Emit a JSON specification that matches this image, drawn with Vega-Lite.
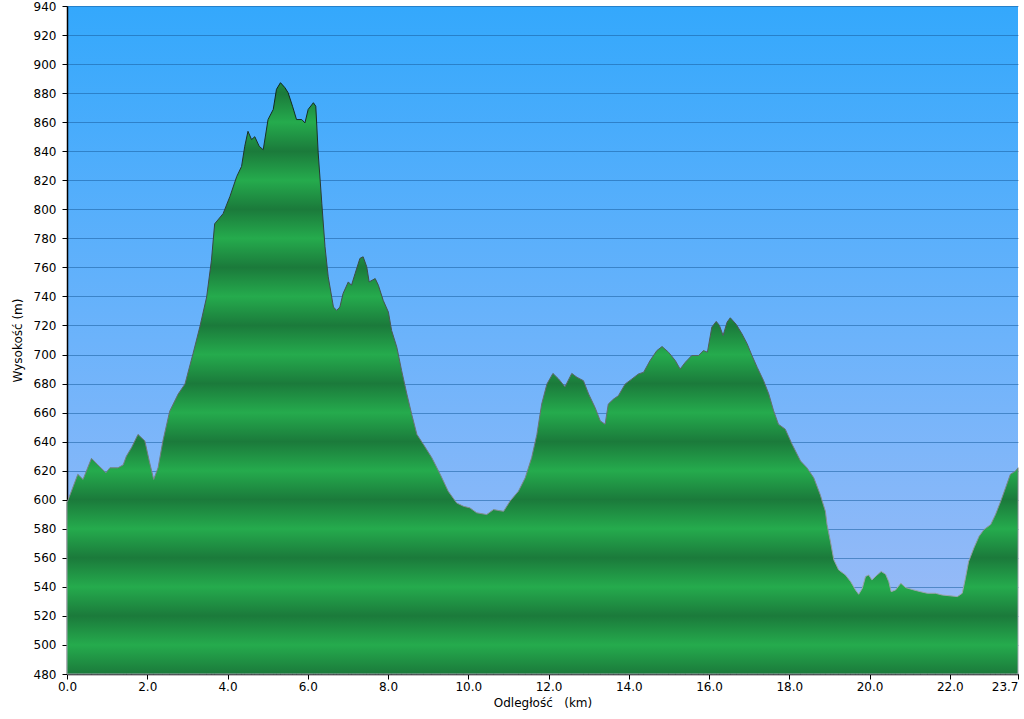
{
  "$schema": "https://vega.github.io/schema/vega-lite/v6.json",
  "width": 951,
  "height": 668,
  "autosize": {"type": "none"},
  "padding": {"left": 67, "top": 6, "right": 6, "bottom": 45},
  "background": "white",
  "view": {
    "stroke": null,
    "fill": {"gradient": "linear", "x1": 0, "y1": 0, "x2": 0, "y2": 1,
      "stops": [
        {"offset": 0, "color": "#34a8fc"},
        {"offset": 0.5, "color": "#6cb3fb"},
        {"offset": 1, "color": "#a2bcf6"}
      ]}
  },
  "data": {"values": [
    {"km": 0.00, "elev": 598}, {"km": 0.27, "elev": 617.5}, {"km": 0.40, "elev": 614}, {"km": 0.61, "elev": 628.5},
    {"km": 0.77, "elev": 624}, {"km": 0.97, "elev": 618.6}, {"km": 1.07, "elev": 622}, {"km": 1.27, "elev": 622},
    {"km": 1.40, "elev": 624}, {"km": 1.48, "elev": 630}, {"km": 1.61, "elev": 636}, {"km": 1.77, "elev": 645},
    {"km": 1.94, "elev": 640.5}, {"km": 2.05, "elev": 626.7}, {"km": 2.16, "elev": 614}, {"km": 2.27, "elev": 622},
    {"km": 2.39, "elev": 640.5}, {"km": 2.56, "elev": 661}, {"km": 2.77, "elev": 672.8}, {"km": 2.94, "elev": 679.7},
    {"km": 3.14, "elev": 700.5}, {"km": 3.31, "elev": 719}, {"km": 3.48, "elev": 739.6}, {"km": 3.60, "elev": 765},
    {"km": 3.68, "elev": 790}, {"km": 3.89, "elev": 797}, {"km": 4.06, "elev": 808.8}, {"km": 4.23, "elev": 822.6},
    {"km": 4.35, "elev": 829.5}, {"km": 4.43, "elev": 843.4}, {"km": 4.51, "elev": 853.7}, {"km": 4.60, "elev": 848},
    {"km": 4.68, "elev": 850}, {"km": 4.79, "elev": 843.4}, {"km": 4.89, "elev": 841}, {"km": 5.01, "elev": 861.8},
    {"km": 5.14, "elev": 868.8}, {"km": 5.22, "elev": 882.6}, {"km": 5.32, "elev": 887.2}, {"km": 5.43, "elev": 883.8},
    {"km": 5.51, "elev": 880.3}, {"km": 5.62, "elev": 871}, {"km": 5.72, "elev": 861.8}, {"km": 5.85, "elev": 861.8},
    {"km": 5.93, "elev": 859.5}, {"km": 6.01, "elev": 868.8}, {"km": 6.14, "elev": 873.4}, {"km": 6.20, "elev": 871},
    {"km": 6.26, "elev": 838.8}, {"km": 6.35, "elev": 804.2}, {"km": 6.43, "elev": 774.2}, {"km": 6.51, "elev": 753.5},
    {"km": 6.64, "elev": 732.7}, {"km": 6.72, "elev": 730.4}, {"km": 6.80, "elev": 732.7}, {"km": 6.88, "elev": 742},
    {"km": 7.01, "elev": 750}, {"km": 7.09, "elev": 747.7}, {"km": 7.18, "elev": 755.8}, {"km": 7.30, "elev": 766.2},
    {"km": 7.38, "elev": 767.3}, {"km": 7.47, "elev": 760.4}, {"km": 7.53, "elev": 750}, {"km": 7.68, "elev": 752.3},
    {"km": 7.76, "elev": 747.7}, {"km": 7.88, "elev": 737.3}, {"km": 8.01, "elev": 729.2}, {"km": 8.09, "elev": 716.6},
    {"km": 8.22, "elev": 705}, {"km": 8.34, "elev": 688.9}, {"km": 8.47, "elev": 672.8}, {"km": 8.59, "elev": 658.9},
    {"km": 8.72, "elev": 645}, {"km": 8.88, "elev": 638.2}, {"km": 9.09, "elev": 629}, {"km": 9.30, "elev": 617.5},
    {"km": 9.50, "elev": 605.9}, {"km": 9.71, "elev": 597.8}, {"km": 9.88, "elev": 595.5}, {"km": 10.04, "elev": 594.4},
    {"km": 10.21, "elev": 591}, {"km": 10.46, "elev": 589.8}, {"km": 10.63, "elev": 593.2}, {"km": 10.88, "elev": 592},
    {"km": 11.04, "elev": 599}, {"km": 11.25, "elev": 605.9}, {"km": 11.42, "elev": 615.1}, {"km": 11.58, "elev": 629},
    {"km": 11.71, "elev": 645}, {"km": 11.83, "elev": 665.9}, {"km": 11.96, "elev": 679.7}, {"km": 12.11, "elev": 687},
    {"km": 12.25, "elev": 683.2}, {"km": 12.41, "elev": 677.8}, {"km": 12.58, "elev": 687}, {"km": 12.71, "elev": 684.3},
    {"km": 12.87, "elev": 682}, {"km": 13.00, "elev": 672.8}, {"km": 13.16, "elev": 663.5}, {"km": 13.29, "elev": 654.3},
    {"km": 13.41, "elev": 652}, {"km": 13.49, "elev": 665.9}, {"km": 13.62, "elev": 669.3}, {"km": 13.74, "elev": 671.6},
    {"km": 13.91, "elev": 679.7}, {"km": 14.08, "elev": 683.2}, {"km": 14.24, "elev": 686.6}, {"km": 14.37, "elev": 687.8},
    {"km": 14.53, "elev": 695.8}, {"km": 14.70, "elev": 702.7}, {"km": 14.83, "elev": 705.5}, {"km": 14.99, "elev": 701.6},
    {"km": 15.16, "elev": 695.8}, {"km": 15.28, "elev": 690}, {"km": 15.41, "elev": 694.7}, {"km": 15.57, "elev": 699.3},
    {"km": 15.74, "elev": 699.3}, {"km": 15.86, "elev": 702.7}, {"km": 15.96, "elev": 701.6}, {"km": 16.07, "elev": 718.9},
    {"km": 16.18, "elev": 722.8}, {"km": 16.26, "elev": 720}, {"km": 16.35, "elev": 713.1}, {"km": 16.45, "elev": 722.3},
    {"km": 16.53, "elev": 725.3}, {"km": 16.68, "elev": 720.7}, {"km": 16.82, "elev": 714.3}, {"km": 16.95, "elev": 707.4},
    {"km": 17.07, "elev": 699.3}, {"km": 17.20, "elev": 691.2}, {"km": 17.36, "elev": 682}, {"km": 17.49, "elev": 672.8},
    {"km": 17.61, "elev": 661.2}, {"km": 17.73, "elev": 652}, {"km": 17.90, "elev": 648.6}, {"km": 18.07, "elev": 638.2},
    {"km": 18.28, "elev": 626.7}, {"km": 18.44, "elev": 622}, {"km": 18.61, "elev": 615.1}, {"km": 18.77, "elev": 603.6},
    {"km": 18.90, "elev": 592}, {"km": 18.94, "elev": 583}, {"km": 19.02, "elev": 572}, {"km": 19.11, "elev": 558.6},
    {"km": 19.23, "elev": 551.7}, {"km": 19.40, "elev": 548.2}, {"km": 19.53, "elev": 543.6}, {"km": 19.65, "elev": 537.9},
    {"km": 19.73, "elev": 534.9}, {"km": 19.82, "elev": 539}, {"km": 19.90, "elev": 547.1}, {"km": 19.98, "elev": 548.2},
    {"km": 20.06, "elev": 544.8}, {"km": 20.19, "elev": 548.2}, {"km": 20.29, "elev": 550.6}, {"km": 20.40, "elev": 548.7},
    {"km": 20.48, "elev": 543.6}, {"km": 20.54, "elev": 536.7}, {"km": 20.65, "elev": 537.9}, {"km": 20.78, "elev": 542.5},
    {"km": 20.90, "elev": 539.5}, {"km": 21.10, "elev": 537.9}, {"km": 21.27, "elev": 536.7}, {"km": 21.44, "elev": 535.6},
    {"km": 21.64, "elev": 535.6}, {"km": 21.81, "elev": 534.4}, {"km": 22.02, "elev": 533.8}, {"km": 22.19, "elev": 533.3},
    {"km": 22.31, "elev": 535.6}, {"km": 22.39, "elev": 545.9}, {"km": 22.47, "elev": 557.5}, {"km": 22.60, "elev": 566.7},
    {"km": 22.73, "elev": 574.8}, {"km": 22.85, "elev": 579.4}, {"km": 23.02, "elev": 582.9}, {"km": 23.14, "elev": 589.8},
    {"km": 23.27, "elev": 599}, {"km": 23.39, "elev": 608.2}, {"km": 23.51, "elev": 617.5}, {"km": 23.64, "elev": 619.8},
    {"km": 23.70, "elev": 622}
  ]},
  "mark": {
    "type": "area",
    "strokeWidth": 1,
    "fill": {"gradient": "linear", "x1": 0, "y1": 0, "x2": 0, "y2": 1,
      "stops": [
        {"offset": 0, "color": "#1f8c42"},
        {"offset": 0.01768, "color": "#1b7a3b"},
        {"offset": 0.06680, "color": "#25ab4d"},
        {"offset": 0.11591, "color": "#1b7a3b"},
        {"offset": 0.16503, "color": "#25ab4d"},
        {"offset": 0.21415, "color": "#1b7a3b"},
        {"offset": 0.26326, "color": "#25ab4d"},
        {"offset": 0.31238, "color": "#1b7a3b"},
        {"offset": 0.36149, "color": "#25ab4d"},
        {"offset": 0.41061, "color": "#1b7a3b"},
        {"offset": 0.45972, "color": "#25ab4d"},
        {"offset": 0.50884, "color": "#1b7a3b"},
        {"offset": 0.55796, "color": "#25ab4d"},
        {"offset": 0.60707, "color": "#1b7a3b"},
        {"offset": 0.65619, "color": "#25ab4d"},
        {"offset": 0.70530, "color": "#1b7a3b"},
        {"offset": 0.75442, "color": "#25ab4d"},
        {"offset": 0.80354, "color": "#1b7a3b"},
        {"offset": 0.85265, "color": "#25ab4d"},
        {"offset": 0.90177, "color": "#1b7a3b"},
        {"offset": 0.95088, "color": "#25ab4d"},
        {"offset": 1, "color": "#1b7a3b"}
      ]},
    "stroke": {"gradient": "linear", "x1": 0, "y1": 0, "x2": 0, "y2": 1,
      "stops": [
        {"offset": 0, "color": "#0e2418"},
        {"offset": 0.4, "color": "#4a5552"},
        {"offset": 0.85, "color": "#9aa3aa"},
        {"offset": 1, "color": "#a0a8b0"}
      ]}
  },
  "encoding": {
    "x": {
      "field": "km", "type": "quantitative",
      "scale": {"domain": [0, 23.7], "nice": false, "zero": false},
      "axis": {
        "values": [0, 2, 4, 6, 8, 10, 12, 14, 16, 18, 20, 22, 23.7],
        "format": ".1f",
        "grid": false,
        "labelAlign": {"condition": {"test": "datum.value >= 23.7", "value": "right"}, "value": "center"},
        "title": "Odległość\u00a0\u00a0\u00a0(km)",
        "titlePadding": 5
      }
    },
    "y": {
      "field": "elev", "type": "quantitative",
      "scale": {"domain": [480, 940], "nice": false, "zero": false},
      "axis": {
        "values": [480, 500, 520, 540, 560, 580, 600, 620, 640, 660, 680, 700, 720, 740, 760, 780, 800, 820, 840, 860, 880, 900, 920, 940],
        "grid": true,
        "gridColor": "#1a5fa0",
        "gridOpacity": 0.55,
        "title": "Wysokość (m)",
        "titlePadding": 9,
        "labelPadding": 6
      }
    },
    "y2": {"datum": 480}
  },
  "config": {
    "font": "DejaVu Sans",
    "axis": {
      "domainColor": "#000000",
      "domainWidth": 1.5,
      "tickColor": "#000000",
      "tickSize": 5,
      "labelColor": "#000000",
      "labelFont": "DejaVu Sans",
      "labelFontSize": 12,
      "labelPadding": 2,
      "titleColor": "#000000",
      "titleFont": "DejaVu Sans",
      "titleFontSize": 12,
      "titleFontWeight": "normal"
    }
  }
}
